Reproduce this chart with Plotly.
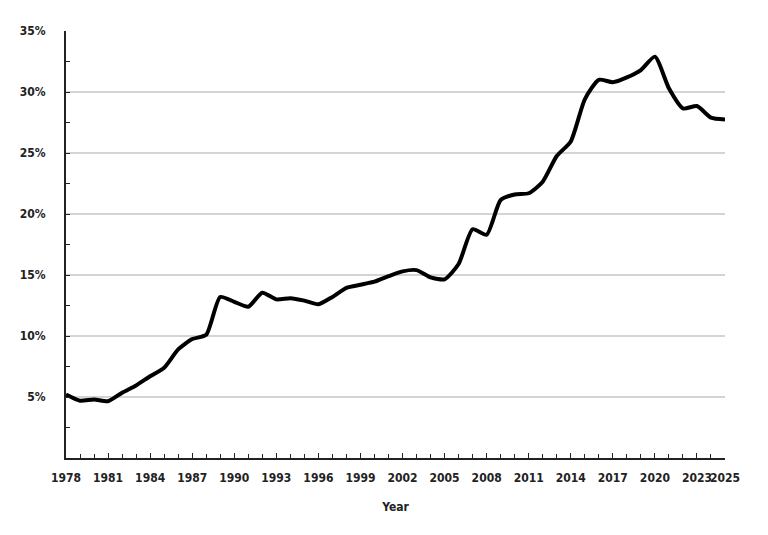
import plotly.graph_objects as go

years = list(range(1978, 2026))
share = [5.2, 4.7, 4.8, 4.65, 5.35, 5.95, 6.7, 7.4, 8.9, 9.75, 10.1, 13.2,
         12.8, 12.4, 13.55, 13.0, 13.1, 12.9, 12.6, 13.2, 13.95, 14.2, 14.45, 14.9,
         15.3, 15.4, 14.8, 14.65, 15.9, 18.75, 18.3, 21.15, 21.6, 21.7, 22.65, 24.75,
         25.95, 29.4, 31.0, 30.8, 31.2, 31.8, 32.9, 30.3, 28.65, 28.85, 27.9, 27.75]

x_ticks = list(range(1978, 2024, 3)) + [2025]
y_ticks = [5, 10, 15, 20, 25, 30, 35]
y_labels = [f"{v}%" for v in y_ticks]

font_name = "DejaVu Sans Condensed, Roboto, Arial"

fig = go.Figure()
fig.add_trace(go.Scatter(x=years, y=share, mode="lines",
                         line=dict(color="black", width=4, shape="spline", smoothing=0.6),
                         hoverinfo="x+y"))

# page body adds an 8px offset, so the figure is a bit smaller than the window
fig.update_layout(
    width=760, height=527,
    margin=dict(l=58, r=43, t=23, b=77),
    plot_bgcolor="white", paper_bgcolor="white",
    showlegend=False,
    font=dict(family=font_name, size=12, color="#222", weight="bold"),
)
fig.update_xaxes(
    range=[1978, 2025], tickvals=x_ticks, ticktext=[str(v) for v in x_ticks],
    tickangle=0, automargin=False,
    showline=True, linecolor="#222", linewidth=2, showgrid=False, zeroline=False,
    ticks="inside", ticklen=5, tickcolor="#222", ticklabelstandoff=8,
    minor=dict(dtick=1, ticks="inside", ticklen=4, tickcolor="#222", showgrid=False),
    title=dict(text="Year", standoff=18, font=dict(family=font_name, size=12, weight="bold")),
)
fig.update_yaxes(
    range=[0, 35], tickvals=y_ticks, ticktext=y_labels, automargin=False,
    showline=True, linecolor="#222", linewidth=2, zeroline=False,
    showgrid=True, gridcolor="#d4d4d4", gridwidth=1.5,
    ticks="inside", ticklen=4, tickcolor="#222", ticklabelstandoff=16,
    minor=dict(tickvals=[2.5, 7.5, 12.5, 17.5, 22.5, 27.5, 32.5], ticks="inside",
               ticklen=4, tickcolor="#222", showgrid=False),
)

fig.write_html("out.html")
